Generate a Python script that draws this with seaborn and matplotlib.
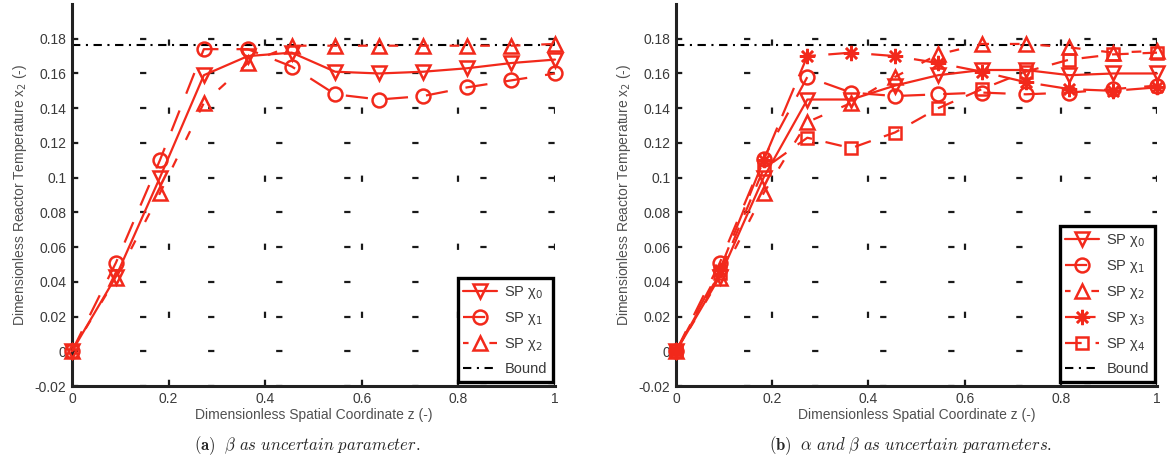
import numpy as np
import pandas as pd
import matplotlib
matplotlib.use("Agg")
import matplotlib.pyplot as plt
import seaborn as sns

# spatial grid
z = [0.0, 0.091, 0.182, 0.273, 0.364, 0.455, 0.545, 0.636, 0.727, 0.818, 0.909, 1.0]

# (a) beta uncertain
a_chi0 = [0, 0.043, 0.100, 0.159, 0.170, 0.172, 0.161, 0.160, 0.161, 0.163, 0.166, 0.168]
a_chi1 = [0, 0.051, 0.110, 0.174, 0.174, 0.164, 0.148, 0.145, 0.147, 0.152, 0.156, 0.160]
a_chi2 = [0, 0.042, 0.091, 0.143, 0.166, 0.176, 0.176, 0.176, 0.176, 0.176, 0.176, 0.177]

# (b) alpha and beta uncertain
b_chi0 = [0, 0.043, 0.100, 0.145, 0.145, 0.153, 0.159, 0.162, 0.162, 0.159, 0.160, 0.160]
b_chi1 = [0, 0.051, 0.111, 0.158, 0.149, 0.147, 0.148, 0.149, 0.148, 0.149, 0.151, 0.153]
b_chi2 = [0, 0.042, 0.091, 0.132, 0.143, 0.158, 0.171, 0.177, 0.177, 0.175, 0.172, 0.173]
b_chi3 = [0, 0.047, 0.110, 0.170, 0.172, 0.170, 0.166, 0.161, 0.155, 0.151, 0.150, 0.152]
b_chi4 = [0, 0.045, 0.105, 0.123, 0.117, 0.126, 0.140, 0.151, 0.161, 0.168, 0.171, 0.172]

bound = 0.1765

yticks = [-0.02, 0, 0.02, 0.04, 0.06, 0.08, 0.1, 0.12, 0.14, 0.16, 0.18]
ytick_labels = ["-0.02", "0", "0.02", "0.04", "0.06", "0.08", "0.1", "0.12", "0.14", "0.16", "0.18"]
xticks = [0, 0.2, 0.4, 0.6, 0.8, 1.0]
xtick_labels = ["0", "0.2", "0.4", "0.6", "0.8", "1"]

sns.set_style("white")
plt.rcParams["font.family"] = ["Liberation Sans", "DejaVu Sans"]
plt.rcParams["lines.scale_dashes"] = False

RED = "#f2291b"
styles = {
    0: dict(marker="v", linestyle="-"),
    1: dict(marker="o", linestyle=(0, (16, 13))),
    2: dict(marker="^", linestyle=(3, (7, 15))),
    3: dict(marker=(8, 2, 0), linestyle=(0, (22, 9))),
    4: dict(marker="s", linestyle=(0, (12, 10))),
}

fig = plt.figure(figsize=(11.68, 4.62), dpi=100)
ax_a = fig.add_axes([0.0616, 0.1645, 0.4136, 0.8268])
ax_b = fig.add_axes([0.5788, 0.1645, 0.4118, 0.8268])


def draw(ax, series, caption):
    for k, ys in enumerate(series):
        df = pd.DataFrame({"z": z, "x2": ys})
        st = styles[k]
        ms = {0: 10, 1: 10, 2: 10, 3: 11, 4: 9}[k]
        sns.lineplot(data=df, x="z", y="x2", ax=ax, color=RED, lw=1.6,
                     marker=st["marker"], linestyle=st["linestyle"],
                     markersize=ms, markerfacecolor="none", markeredgecolor=RED,
                     markeredgewidth=1.8, clip_on=False, label=f"SP χ$_{k}$",
                     zorder=3)
    ax.axhline(bound, color="black", lw=1.5, linestyle=(0, (6, 4, 1.5, 4)),
               label="Bound", zorder=2)

    ax.set_xlim(0, 1)
    ax.set_ylim(-0.02, 0.2)
    ax.set_xticks(xticks)
    ax.set_xticklabels(xtick_labels)
    ax.set_yticks(yticks)
    ax.set_yticklabels(ytick_labels)
    ax.tick_params(direction="in", length=5, width=1.5, color="#222222",
                   labelsize=10, labelcolor="#3a3a3a", pad=4)
    ax.grid(True, color="#1a1a1a", lw=1.6, linestyle=(0, (4.5, 44.5)))
    for side in ["top", "right"]:
        ax.spines[side].set_visible(False)
    for side in ["left", "bottom"]:
        ax.spines[side].set_linewidth(2.2)
        ax.spines[side].set_color("#222222")
    ax.set_xlabel("Dimensionless Spatial Coordinate z (-)", fontsize=10,
                  color="#505050", labelpad=2)
    ax.set_ylabel("Dimensionless Reactor Temperature x$_2$ (-)", fontsize=10,
                  color="#505050", labelpad=4)

    leg = ax.legend(loc="lower right", bbox_to_anchor=(0.995, 0.01),
                    borderaxespad=0, fontsize=10.5, handlelength=2.3,
                    handletextpad=0.5, labelspacing=0.62, borderpad=0.4,
                    fancybox=False, framealpha=1, labelcolor="#3a3a3a")
    leg.get_frame().set_edgecolor("black")
    leg.get_frame().set_linewidth(2.4)

    pos = ax.get_position()
    fig.text(pos.x0 + pos.width / 2 - 0.005, 0.035, caption, ha="center",
             va="center", fontsize=12, math_fontfamily="cm")


draw(ax_a, [a_chi0, a_chi1, a_chi2],
     r"$\mathbf{(a)}\ \ \beta\ as\ uncertain\ parameter.$")
draw(ax_b, [b_chi0, b_chi1, b_chi2, b_chi3, b_chi4],
     r"$\mathbf{(b)}\ \ \alpha\ and\ \beta\ as\ uncertain\ parameters.$")

fig.savefig("out.png", dpi=100)
